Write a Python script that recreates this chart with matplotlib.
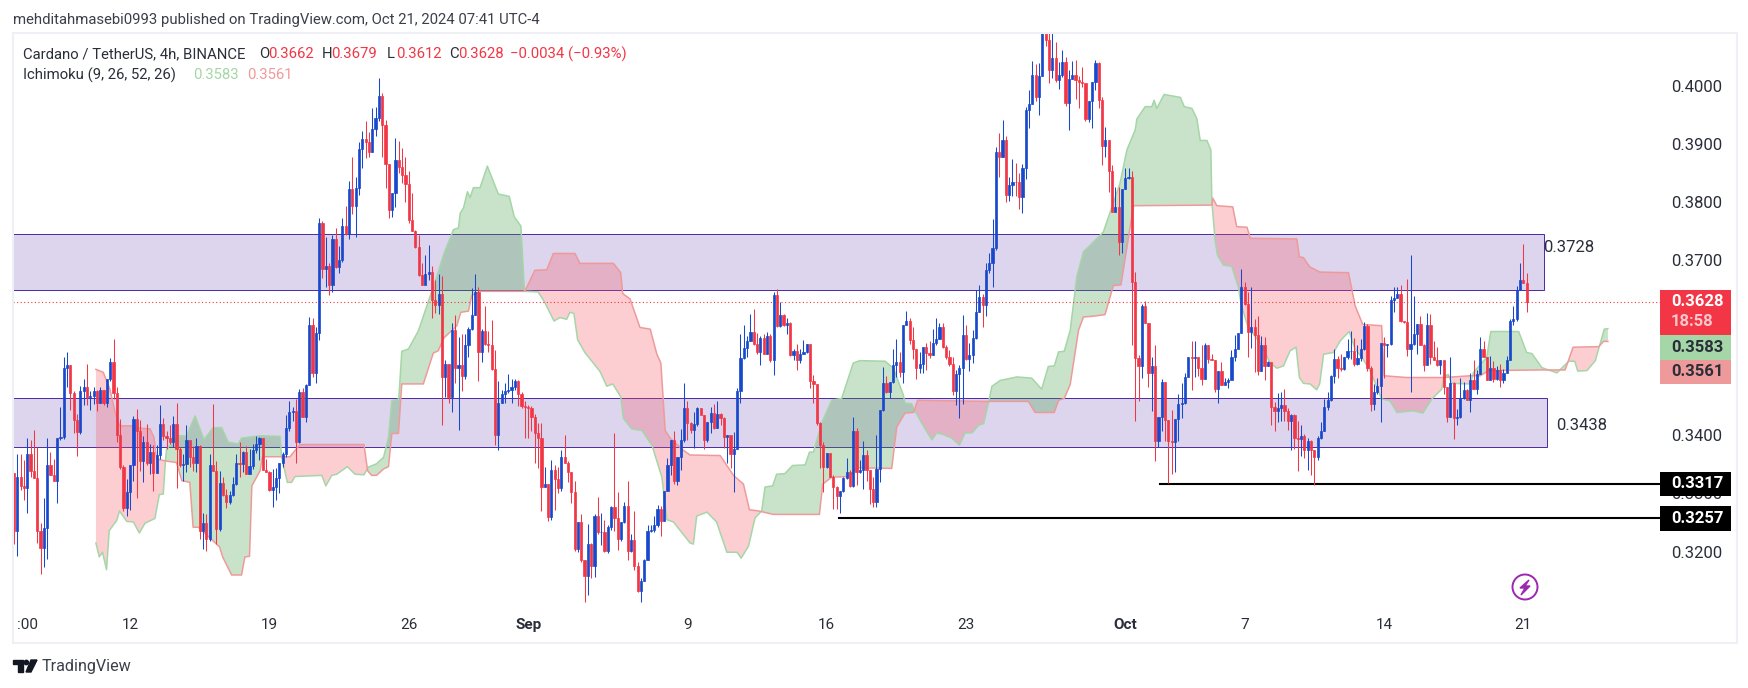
import numpy as np
import matplotlib
matplotlib.use('Agg')
import matplotlib.pyplot as plt
from matplotlib.patches import Rectangle, Circle, Polygon

# price values are in 1/10000 units, one entry per 4h bar
closes = [3236,3329,3312,3309,3367,3339,3327,3236,3206,3240,3348,3331,3321,3396,3397,3516,3520,3472,3426,3405,
 3476,3482,3466,3468,3476,3455,3478,3455,3497,3526,3473,3401,3346,3275,3303,3348,3427,3408,3356,3389,
 3352,3372,3335,3366,3420,3398,3395,3388,3420,3376,3348,3351,3392,3363,3353,3382,3235,3249,3222,3348,
 3339,3239,3318,3298,3285,3298,3316,3353,3350,3372,3333,3347,3375,3385,3395,3340,3336,3306,3311,3327,
 3353,3367,3413,3440,3442,3389,3474,3432,3487,3589,3507,3576,3764,3685,3690,3657,3737,3688,3700,3760,
 3745,3823,3793,3825,3892,3909,3904,3886,3926,3945,3983,3932,3865,3786,3816,3873,3860,3846,3831,3769,
 3750,3723,3675,3657,3677,3681,3632,3623,3642,3500,3523,3465,3580,3515,3520,3501,3554,3582,3606,3646,
 3542,3579,3557,3554,3513,3400,3456,3470,3476,3478,3482,3493,3470,3450,3449,3447,3432,3404,3396,3311,
 3317,3259,3341,3325,3310,3363,3352,3336,3302,3204,3251,3186,3158,3214,3176,3262,3233,3234,3201,3242,
 3277,3258,3221,3251,3279,3201,3220,3175,3132,3150,3185,3236,3237,3245,3273,3253,3305,3348,3391,3322,
 3363,3391,3447,3421,3409,3419,3447,3434,3392,3423,3438,3412,3436,3430,3397,3400,3368,3377,3476,3533,
 3550,3562,3578,3557,3542,3567,3540,3571,3529,3641,3588,3607,3590,3593,3538,3545,3529,3540,3542,3557,
 3493,3488,3421,3384,3346,3370,3329,3311,3295,3305,3327,3337,3313,3408,3337,3340,3366,3341,3307,3285,
 3342,3443,3489,3475,3492,3521,3526,3509,3590,3596,3564,3548,3516,3522,3551,3541,3537,3558,3566,3585,
 3552,3535,3523,3476,3505,3516,3572,3530,3538,3567,3612,3638,3623,3684,3695,3721,3886,3878,3906,3813,
 3829,3835,3834,3809,3858,3958,3969,4018,3980,4017,4092,4079,4027,4047,4009,4018,4041,3970,4012,4018,
 4009,4007,4004,3943,3973,4006,4039,3976,3897,3906,3853,3784,3792,3732,3823,3842,3844,3663,3532,3519,
 3621,3592,3506,3518,3390,3432,3492,3426,3390,3389,3428,3454,3455,3500,3535,3532,3534,3516,3497,3555,
 3530,3529,3480,3510,3486,3492,3495,3535,3548,3575,3655,3626,3578,3585,3572,3510,3555,3519,3525,3448,
 3441,3447,3451,3442,3425,3435,3395,3394,3398,3374,3390,3374,3363,3395,3408,3448,3461,3501,3531,3515,
 3514,3534,3544,3545,3522,3532,3548,3588,3516,3454,3474,3485,3558,3554,3556,3632,3636,3642,3596,3594,
 3548,3556,3574,3591,3554,3521,3590,3534,3529,3520,3529,3482,3432,3489,3430,3432,3464,3477,3461,3494,
 3479,3505,3548,3534,3494,3515,3497,3512,3495,3506,3529,3596,3599,3649,3666,3662,3628]
highs = [3335,3367,3368,3357,3395,3392,3409,3379,3250,3292,3395,3371,3359,3396,3449,3534,3542,3520,3476,3436,
 3484,3496,3522,3476,3483,3477,3483,3478,3497,3532,3565,3482,3428,3348,3325,3348,3433,3445,3426,3399,
 3419,3385,3383,3383,3451,3429,3408,3418,3433,3456,3379,3367,3418,3392,3382,3395,3383,3267,3264,3368,
 3453,3356,3339,3328,3308,3305,3328,3367,3388,3373,3382,3376,3385,3399,3397,3395,3359,3339,3342,3344,
 3353,3371,3435,3459,3449,3462,3479,3481,3488,3603,3602,3586,3773,3767,3741,3696,3743,3756,3724,3773,
 3793,3836,3877,3843,3903,3922,3940,3921,3961,3964,4013,3988,3941,3866,3816,3911,3905,3893,3878,3854,
 3816,3753,3743,3696,3709,3727,3691,3667,3677,3673,3529,3523,3593,3606,3568,3573,3573,3585,3652,3677,
 3655,3582,3622,3579,3597,3547,3493,3478,3490,3505,3496,3497,3495,3475,3459,3452,3450,3437,3421,3421,
 3346,3317,3358,3349,3345,3375,3400,3355,3337,3321,3251,3264,3185,3248,3215,3264,3294,3266,3255,3245,
 3279,3403,3302,3251,3286,3321,3230,3270,3182,3154,3187,3245,3245,3261,3280,3279,3305,3360,3391,3407,
 3363,3411,3490,3458,3423,3439,3449,3434,3435,3423,3449,3453,3458,3438,3432,3400,3398,3406,3481,3574,
 3590,3570,3608,3617,3576,3570,3573,3578,3573,3645,3651,3628,3608,3602,3594,3548,3557,3548,3564,3557,
 3557,3504,3488,3423,3388,3370,3368,3331,3313,3305,3329,3360,3340,3432,3412,3358,3390,3374,3341,3328,
 3400,3443,3517,3502,3492,3548,3566,3543,3590,3614,3601,3586,3548,3542,3551,3558,3561,3583,3601,3593,
 3593,3554,3546,3534,3512,3521,3607,3589,3558,3580,3650,3658,3642,3695,3712,3772,3895,3918,3941,3913,
 3844,3875,3867,3850,3866,3964,3992,4042,4038,4039,4100,4100,4090,4090,4075,4041,4061,4050,4027,4042,
 4044,4017,4032,3943,3973,4006,4044,4041,3980,3929,3906,3864,3826,3826,3823,3858,3858,3853,3680,3537,
 3626,3631,3592,3534,3555,3432,3497,3492,3426,3443,3428,3470,3489,3506,3535,3562,3562,3534,3555,3559,
 3555,3540,3529,3510,3526,3498,3498,3546,3572,3575,3686,3663,3646,3655,3600,3604,3571,3569,3528,3519,
 3457,3473,3474,3479,3447,3437,3437,3425,3418,3402,3395,3391,3375,3399,3422,3462,3474,3504,3548,3536,
 3539,3534,3565,3579,3567,3554,3565,3594,3591,3519,3488,3498,3558,3569,3556,3639,3655,3655,3658,3596,
 3668,3709,3639,3591,3605,3556,3610,3608,3562,3551,3529,3528,3482,3534,3491,3445,3499,3491,3479,3506,
 3529,3512,3569,3562,3534,3536,3527,3519,3522,3514,3536,3599,3622,3656,3695,3729,3679]
lows = [3214,3192,3306,3288,3266,3329,3326,3215,3161,3174,3187,3331,3321,3283,3392,3393,3483,3444,3403,3365,
 3402,3452,3451,3444,3453,3442,3455,3451,3449,3493,3462,3389,3342,3269,3262,3271,3322,3293,3339,3319,
 3348,3333,3305,3335,3359,3391,3376,3385,3379,3309,3345,3322,3336,3345,3339,3336,3221,3204,3202,3218,
 3339,3214,3236,3296,3275,3282,3295,3315,3328,3336,3333,3333,3342,3369,3357,3340,3336,3305,3276,3288,
 3300,3345,3363,3408,3425,3352,3386,3431,3422,3486,3500,3490,3564,3670,3654,3640,3646,3687,3679,3697,
 3744,3736,3779,3740,3812,3858,3876,3877,3887,3914,3940,3878,3824,3773,3774,3791,3850,3833,3801,3764,
 3750,3721,3673,3657,3661,3666,3602,3610,3608,3418,3465,3455,3439,3490,3409,3476,3496,3535,3580,3606,
 3493,3525,3554,3542,3512,3384,3374,3455,3456,3472,3455,3478,3450,3447,3396,3395,3407,3352,3343,3270,
 3311,3253,3255,3272,3300,3305,3352,3319,3284,3201,3199,3182,3113,3126,3154,3157,3230,3212,3199,3198,
 3237,3236,3203,3218,3250,3185,3200,3169,3131,3113,3149,3185,3233,3233,3242,3227,3253,3305,3331,3316,
 3314,3340,3389,3392,3403,3378,3415,3434,3377,3389,3404,3411,3412,3417,3378,3352,3343,3303,3376,3455,
 3531,3535,3561,3554,3539,3521,3540,3539,3525,3504,3586,3586,3588,3573,3536,3529,3512,3524,3539,3541,
 3481,3456,3418,3343,3303,3343,3329,3274,3273,3267,3302,3325,3311,3311,3314,3335,3308,3322,3282,3276,
 3276,3319,3441,3472,3463,3490,3500,3500,3489,3590,3556,3530,3497,3507,3506,3512,3532,3537,3555,3566,
 3550,3530,3518,3469,3452,3429,3454,3529,3511,3524,3566,3612,3585,3604,3679,3654,3718,3843,3878,3800,
 3802,3810,3810,3789,3781,3839,3927,3969,3973,3950,4017,4069,4004,4013,4007,3995,4015,3966,3924,4012,
 3977,3962,3998,3940,3938,3927,3992,3961,3864,3878,3817,3784,3784,3709,3712,3823,3840,3554,3425,3458,
 3498,3592,3483,3441,3355,3380,3407,3390,3318,3334,3337,3390,3429,3453,3500,3478,3500,3501,3487,3497,
 3524,3529,3475,3455,3486,3488,3481,3512,3527,3551,3575,3624,3535,3550,3509,3503,3510,3494,3519,3418,
 3408,3422,3425,3425,3409,3374,3377,3338,3365,3360,3341,3331,3315,3357,3394,3407,3443,3459,3489,3499,
 3511,3512,3531,3531,3518,3521,3528,3546,3511,3442,3443,3471,3422,3499,3535,3555,3611,3635,3594,3592,
 3536,3475,3554,3539,3554,3511,3522,3522,3529,3518,3505,3471,3422,3431,3393,3417,3430,3462,3461,3439,
 3479,3471,3505,3534,3494,3494,3492,3494,3482,3489,3506,3529,3589,3596,3649,3661,3612]
first_open = 3335

span_a_bars = [24.7,25.7,26.7,27.9,28.7,31,31.8,34,36,37.8,39.5,42.5,43.8,45,45.7,46,49.5,52,54.6,57.3,60,62.6,64.6,67.6,68.6,74.2,80.2,80.7,82.4,83.7,84.7,92.8,94,95.8,97.3,100.5,102.8,105.5,106.8,109.3,111.4,112.9,113.9,116,116.9,118.9,121.9,127.4,129.5,132.5,134,134.5,135.5,136.7,137.5,138.5,140.5,142.7,144.5,146,149.3,150.8,152.8,153.9,158,160,162.8,164.6,166.6,167.6,168.8,169.9,172.1,176.7,178.7,180.5,182.9,183.7,186.2,189.3,192.3,195.3,196.8,198.8,203.8,204.8,205.8,208.9,211.8,214.9,218,219.2,221.4,223.4,225.4,226.4,228.7,229.9,232.4,234.7,238.5,239.8,241,243.5,246.5,249.5,253,255,262.6,265.1,268.1,268.6,270.6,271.7,273.7,276.7,278.2,280.2,282.7,285,286.7,288.8,290.8,292.3,293.8,294.8,297.3,302.3,306.8,309.8,311.8,313.6,314.9,316.6,318.4,320.4,322.4,324.4,328.4,333.4,335.5,338,338.5,341,343,343.7,344.5,346.7,351.6,352.8,355.1,356.6,357.6,359.6,360.8,361.1,362.1,362.8,364.6,367.1,369.1,370,372,375.7,378.7,380.7,382.7,384.7,386.5,387.5,388.7,390.7,392.7,393.6,394.8,397.8,399.8,402.5,404.3,406.3,408.8,412.3,414.8,416.9,421.9,424.7,427.4,430.4,431.1,432.4,433.4,439,440,444,445.2,453.6,456,457.6,460.6,465.1,468.7,470.5,471.4,474.2,476.7,479.4,480.5]
span_a = [3215,3191,3199,3169,3236,3254,3270,3252,3251,3232,3249,3257,3298,3299,3359,3376,3399,3399,3433,3392,3413,3413,3388,3385,3395,3399,3398,3362,3319,3319,3329,3331,3313,3331,3333,3346,3333,3332,3345,3351,3362,3396,3459,3462,3544,3548,3579,3671,3710,3753,3756,3781,3790,3818,3808,3825,3825,3862,3836,3814,3810,3775,3759,3647,3646,3628,3596,3602,3599,3611,3609,3564,3542,3509,3484,3488,3466,3429,3411,3408,3383,3328,3255,3251,3215,3213,3261,3268,3251,3199,3199,3189,3209,3258,3270,3311,3313,3333,3334,3348,3349,3371,3371,3421,3460,3463,3524,3528,3527,3515,3469,3455,3454,3441,3420,3392,3404,3401,3395,3383,3404,3404,3417,3420,3457,3484,3494,3500,3498,3479,3518,3519,3543,3544,3580,3672,3715,3726,3749,3832,3890,3924,3943,3964,3964,3975,3961,3985,3980,3964,3961,3943,3906,3906,3890,3801,3734,3709,3692,3690,3654,3623,3586,3558,3524,3515,3519,3545,3551,3499,3489,3488,3478,3488,3539,3542,3562,3578,3548,3534,3511,3462,3459,3439,3442,3438,3462,3479,3502,3504,3489,3488,3508,3534,3578,3578,3542,3540,3516,3507,3527,3527,3510,3511,3528,3582,3583]
span_b_bars = [24.7,26.9,28.9,30.5,31.8,36,38,41,42.2,43,45.5,49,50.6,53,54,55.6,62,62.9,65.6,68.6,69.6,71,71.7,74.2,74.9,83.2,86.2,105.5,106.6,107.8,109.3,111.4,112.9,113.9,115.9,116.9,123.4,126.4,127.9,129.6,133.5,134.7,137,138,140.5,154,157,160.6,162.6,169.1,170.6,180.7,182.9,183.5,185.7,188.7,191.8,193.8,195,196.3,197.8,201.8,203.8,212.9,216.9,219.9,221.7,224.4,228.9,242.8,243.8,246.5,252,253.9,264.6,266.1,268.6,271.2,272.4,293.8,305.8,307.8,313.6,314.9,316.6,318.4,319.4,320.9,322.4,324.9,328.9,331.4,333.7,337.5,361.1,361.4,362.6,367.4,368.6,371.7,372.7,386.7,387.5,388.7,390.6,393.7,402.3,404.3,406.6,412.3,413,419.9,431,439,442,444.5,460,467.6,470,477.7,479.2,480.5]
span_b = [3513,3508,3479,3439,3416,3416,3412,3411,3396,3359,3356,3353,3322,3319,3242,3242,3208,3191,3160,3160,3191,3192,3313,3339,3363,3363,3384,3384,3339,3331,3331,3342,3346,3403,3403,3488,3488,3541,3545,3567,3588,3611,3613,3640,3647,3647,3683,3684,3712,3712,3695,3695,3679,3643,3634,3585,3582,3539,3524,3408,3395,3374,3366,3365,3331,3316,3272,3270,3264,3264,3316,3328,3329,3344,3343,3414,3438,3439,3460,3458,3458,3439,3439,3460,3463,3487,3524,3580,3603,3604,3607,3657,3658,3794,3795,3807,3794,3792,3758,3757,3738,3737,3706,3705,3689,3680,3679,3622,3590,3588,3502,3499,3499,3502,3502,3511,3512,3512,3551,3552,3561,3561]

resistance_zone = [0.3649, 0.3746]
support_zone = [0.3379, 0.3463]
last_price = 0.3628
low_levels = [0.3317, 0.3257]
y_ticks = [0.32, 0.33, 0.34, 0.37, 0.38, 0.39, 0.40]
tick_bars = [4, 35, 77, 119, 155, 203, 245, 287, 335, 371, 413, 455]
tick_labels = [':00', '12', '19', '26', 'Sep', '9', '16', '23', 'Oct', '7', '14', '21']

W, H = 1749, 688
UP = '#1848cc'
DOWN = '#f23645'
INK = '#2a2e39'
plt.rcParams['font.family'] = ['Roboto', 'DejaVu Sans']


def fx(x):
    return x / W


def fy(y):
    return 1 - y / H


def put(x, y, s, color=INK, size=10.7, **kw):
    fig.text(fx(x), fy(y), s, color=color, fontsize=size, va='center', **kw)


def box(x0, y0, x1, y1, color):
    fig.add_artist(Rectangle((fx(x0), fy(y1)), (x1 - x0) / W, (y1 - y0) / H,
                             transform=fig.transFigure, facecolor=color, edgecolor='none', zorder=5))


fig = plt.figure(figsize=(W / 100, H / 100), dpi=100, facecolor='white')
ax = fig.add_axes([fx(13), fy(615), (1660 - 13) / W, (615 - 33) / H])

c = np.array(closes) / 1e4
o = np.r_[first_open / 1e4, c[:-1]]
hi = np.array(highs) / 1e4
lo = np.array(lows) / 1e4
bars = np.arange(len(c))
col = np.where(c >= o, UP, DOWN)

# zones sit under the cloud
for zone, right in ((resistance_zone, 461.1), (support_zone, 462)):
    ax.add_patch(Rectangle((-5, zone[0]), right + 5, zone[1] - zone[0], facecolor=(0.32, 0.18, 0.66, 0.2),
                           edgecolor='#512da8', lw=0.72, zorder=1))

# ichimoku cloud
a_x, a_y = np.array(span_a_bars), np.array(span_a) / 1e4
b_x, b_y = np.array(span_b_bars), np.array(span_b) / 1e4
grid = np.union1d(a_x, b_x)
ga, gb = np.interp(grid, a_x, a_y), np.interp(grid, b_x, b_y)
ax.fill_between(grid, ga, gb, where=ga >= gb, interpolate=True, color='#43a047', alpha=0.29, lw=0, zorder=2)
ax.fill_between(grid, ga, gb, where=ga <= gb, interpolate=True, color='#f7525f', alpha=0.28, lw=0, zorder=2)
ax.plot(a_x, a_y, color='#a5d6a7', lw=1.1, zorder=2.1)
ax.plot(b_x, b_y, color='#ef9a9a', lw=1.1, zorder=2.1)

ax.axhline(last_price, color=DOWN, lw=0.8, dashes=(1, 2.2), zorder=2.2)
ax.plot([345.4, 497], [low_levels[0]] * 2, color='black', lw=1.5, zorder=2.5)
ax.plot([248.6, 497], [low_levels[1]] * 2, color='black', lw=1.5, zorder=2.5)

ax.vlines(bars, lo, hi, colors=col, lw=0.75, zorder=3)
ax.bar(bars, np.abs(c - o), bottom=np.minimum(c, o), width=0.66, color=col, edgecolor=col, lw=0.5, zorder=3.1)

ax.text(461, 0.3723, '0.3728', color=INK, fontsize=12, va='center', zorder=4)
ax.text(465, 0.3417, '0.3438', color=INK, fontsize=12, va='center', zorder=4)

ax.set_xlim(-0.3, 496.2)
ax.set_ylim(0.30913, 0.40905)
ax.yaxis.tick_right()
ax.set_yticks(y_ticks, ['%.4f' % v for v in y_ticks], color=INK, fontsize=12)
ax.set_xticks(tick_bars, tick_labels, color=INK, fontsize=11)
for t, s in zip(ax.get_xticklabels(), tick_labels):
    if s in ('Sep', 'Oct'):
        t.set_fontweight('bold')
ax.tick_params(axis='both', length=0)
ax.tick_params(axis='y', pad=8)
ax.tick_params(axis='x', pad=2)
for sp in ax.spines.values():
    sp.set_visible(False)

# pane border
fig.add_artist(Rectangle((fx(13), fy(643)), (1737 - 13) / W, (643 - 33) / H, transform=fig.transFigure,
                         facecolor='none', edgecolor='#eff0f6', lw=1.5, zorder=4))

# price tags
box(1660, 290, 1731, 335, DOWN)
box(1660, 335, 1731, 360, '#a5d6a7')
box(1660, 360, 1731, 384, '#ef9a9a')
box(1660, 472, 1731, 496, 'black')
box(1660, 506, 1731, 531, 'black')
tags = [(302, '0.3628', 'white'), (322, '18:58', '#fcc8cc'), (347.5, '0.3583', INK), (372, '0.3561', INK),
        (484, '0.3317', 'white'), (518.5, '0.3257', 'white')]
for y, s, tc in tags:
    put(1671, y, s, color=tc, size=12, fontweight='bold', zorder=6)

# header and legend
put(13, 20, 'mehditahmasebi0993 published on TradingView.com, Oct 21, 2024 07:41 UTC-4', color='#3b3f4a')
put(23, 54, 'Cardano / TetherUS, 4h, BINANCE')
for x, s, v in ((259, 'O', '0.3662'), (322, 'H', '0.3679'), (387, 'L', '0.3612'), (449, 'C', '0.3628')):
    put(x, 54, s)
    put(x + 9.5, 54, v, color=DOWN)
put(510, 54, '\u22120.0034 (\u22120.93%)', color=DOWN)
put(23, 75, 'Ichimoku (9, 26, 52, 26)')
put(193, 75, '0.3583', color='#a5d6a7')
put(247, 75, '0.3561', color='#ef9a9a')

# lightning badge
fig.add_artist(Circle((1525 / 100, (H - 587) / 100), 0.125, transform=fig.dpi_scale_trans,
                      facecolor='white', edgecolor='#9c27b0', lw=1.4, zorder=6))
bolt = [(1529, 580), (1520, 588), (1525, 588), (1521, 595), (1530, 586), (1525, 586)]
fig.add_artist(Polygon([(fx(x), fy(y)) for x, y in bolt], transform=fig.transFigure, color='#9c27b0', zorder=7))

# TradingView logo
logo = ['#131722']
for pts in ([(13, 660), (23, 660), (23, 672), (18, 672), (18, 664), (13, 664)],
            [(31, 660), (37, 660), (31, 672), (26, 672)]):
    fig.add_artist(Polygon([(fx(x), fy(y)) for x, y in pts], transform=fig.transFigure, color=logo[0], zorder=6))
fig.add_artist(Circle((26.3 / 100, (H - 662.5) / 100), 0.022, transform=fig.dpi_scale_trans, color=logo[0], zorder=6))
put(42, 667, 'TradingView', color='#3b3f4a', size=11.6)

fig.savefig('out.png', dpi=100)
